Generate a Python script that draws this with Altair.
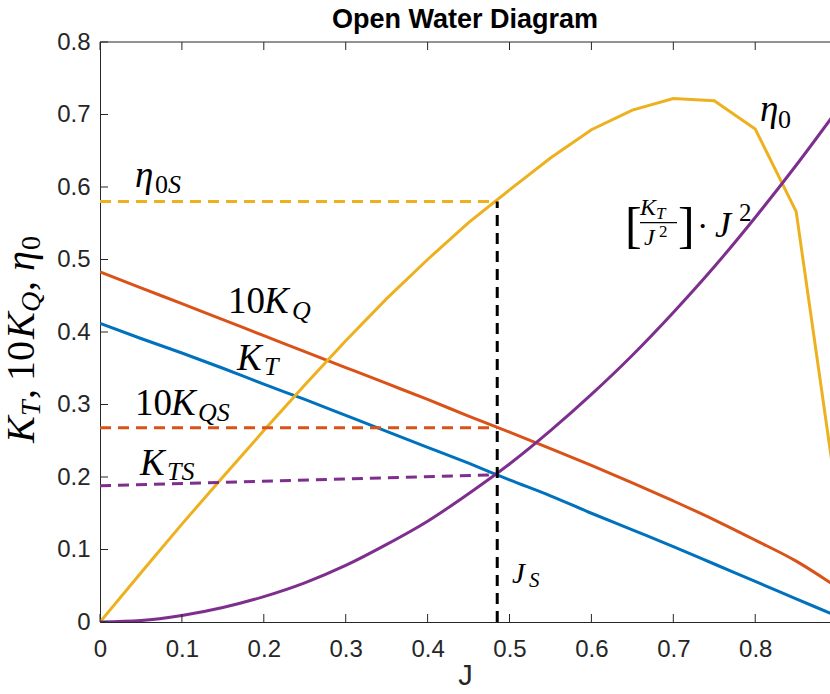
import altair as alt
import pandas as pd

# Open-water characteristics, sampled every 0.05 of advance ratio J
J = [0.00, 0.05, 0.10, 0.15, 0.20, 0.25, 0.30, 0.35, 0.40, 0.45,
     0.50, 0.55, 0.60, 0.65, 0.70, 0.75, 0.80, 0.85, 0.90]
KT = [0.412, 0.391, 0.371, 0.350, 0.328, 0.307, 0.285, 0.263, 0.241, 0.219,
      0.196, 0.174, 0.150, 0.127, 0.104, 0.080, 0.056, 0.032, 0.008]
KQ10 = [0.483, 0.461, 0.439, 0.417, 0.395, 0.373, 0.351, 0.329, 0.307, 0.284,
        0.262, 0.239, 0.216, 0.192, 0.167, 0.141, 0.113, 0.084, 0.048]
ETA0 = [0.000, 0.068, 0.135, 0.200, 0.264, 0.327, 0.388, 0.446, 0.500, 0.551,
        0.596, 0.640, 0.679, 0.706, 0.722, 0.719, 0.680, 0.566, 0.170]
# hull curve [K_T / J^2] * J^2
HULL = [0.000, 0.002, 0.009, 0.020, 0.035, 0.054, 0.078, 0.107, 0.139, 0.177,
        0.218, 0.264, 0.314, 0.368, 0.427, 0.490, 0.558, 0.630, 0.706]

# service point
JS = 0.485
ETA0S = 0.58
KQ10S = 0.268
KTS_GUIDE = [0.188, 0.203]

XTICKS = [0, 0.1, 0.2, 0.3, 0.4, 0.5, 0.6, 0.7, 0.8]
YTICKS = [0, 0.1, 0.2, 0.3, 0.4, 0.5, 0.6, 0.7, 0.8]
X_MAX = 0.8913
Y_MAX = 0.8

PLOT_W, PLOT_H = 730, 580
SANS = "Liberation Sans"
SERIF = "Liberation Serif"
INK = "#000000"
AXIS_INK = "#262626"
BLUE, RED, YELLOW, PURPLE = "#0072BD", "#D95319", "#EDB120", "#7E2F8E"
LW = 3

xs = alt.Scale(domain=[0, X_MAX], nice=False)
ys = alt.Scale(domain=[0, Y_MAX], nice=False)

X_AXIS = alt.Axis(values=XTICKS, format="~g", grid=False, ticks=False,
                  labelFlush=False, labelFont=SANS, labelFontSize=24,
                  labelColor=AXIS_INK, labelPadding=15,
                  domainColor=AXIS_INK, domainWidth=1,
                  title="J", titleFont=SANS, titleFontSize=29,
                  titleFontWeight="normal", titleColor=AXIS_INK, titlePadding=0)
Y_AXIS = alt.Axis(values=YTICKS, format="~g", grid=False, ticks=False,
                  labelFlush=False, labelFont=SANS, labelFontSize=24,
                  labelColor=AXIS_INK, labelPadding=10,
                  domainColor=AXIS_INK, domainWidth=1, title=None)


def xenc(field="J"):
    return alt.X(f"{field}:Q", scale=xs, axis=X_AXIS)


def yenc(field="v"):
    return alt.Y(f"{field}:Q", scale=ys, axis=Y_AXIS)


curves = pd.DataFrame({"J": J, "KT": KT, "KQ10": KQ10, "ETA0": ETA0, "HULL": HULL})
layers = []

# solid characteristic curves (the efficiency curve keeps its straight segments)
for col, color, interp in [("KT", BLUE, "monotone"), ("KQ10", RED, "monotone"),
                           ("ETA0", YELLOW, "linear"), ("HULL", PURPLE, "monotone")]:
    layers.append(alt.Chart(curves).mark_line(color=color, strokeWidth=LW, clip=True,
                                              interpolate=interp)
                  .encode(x=xenc(), y=yenc(col)))

# dashed read-off lines at the service point
guides = [
    (pd.DataFrame({"J": [0, JS], "v": [ETA0S, ETA0S]}), YELLOW),
    (pd.DataFrame({"J": [0, JS], "v": [KQ10S, KQ10S]}), RED),
    (pd.DataFrame({"J": [0, JS], "v": KTS_GUIDE}), PURPLE),
    (pd.DataFrame({"J": [JS, JS], "v": [0, ETA0S]}), INK),
]
for df, color in guides:
    layers.append(alt.Chart(df).mark_line(color=color, strokeWidth=LW,
                                          strokeDash=[11, 7])
                  .encode(x=xenc(), y=yenc()))

# inward tick marks and the top frame line
xt = pd.DataFrame({"J": XTICKS})
yt = pd.DataFrame({"v": YTICKS})
tick = dict(color=AXIS_INK, strokeWidth=1)
layers.append(alt.Chart(xt).mark_rule(**tick).encode(
    x=xenc(), y=alt.value(PLOT_H), y2=alt.value(PLOT_H - 8)))
layers.append(alt.Chart(xt).mark_rule(**tick).encode(
    x=xenc(), y=alt.value(0), y2=alt.value(8)))
layers.append(alt.Chart(yt).mark_rule(**tick).encode(
    y=yenc(), x=alt.value(0), x2=alt.value(8)))
layers.append(alt.Chart(pd.DataFrame({"k": [0]})).mark_rule(**tick).encode(
    x=alt.value(0), x2=alt.value(PLOT_W), y=alt.value(0)))


def tex(J0, v0, pieces):
    """Math-style label built from pieces (text, dx, dy, size, italic)."""
    base = alt.Chart(pd.DataFrame({"J": [J0], "v": [v0]}))
    out = []
    for text, dx, dy, size, italic in pieces:
        out.append(base.mark_text(text=text, font=SERIF, fontSize=size,
                                  fontStyle="italic" if italic else "normal",
                                  align="left", baseline="alphabetic",
                                  dx=dx, dy=dy, color=INK)
                   .encode(x=xenc(), y=yenc()))
    return out


layers += tex(0.1563, 0.4262, [("10", 0, 0, 37, False), ("K", 36, 0, 37, True),
                               ("Q", 64, 6, 26, True)])
layers += tex(0.1673, 0.3476, [("K", 0, 0, 37, True), ("T", 27, 5, 26, True)])
layers += tex(0.0427, 0.2855, [("10", 0, 0, 37, False), ("K", 36, 0, 37, True),
                               ("QS", 63, 6, 26, True)])
layers += tex(0.0488, 0.2028, [("K", 0, 0, 37, True), ("TS", 27, 5, 26, True)])
layers += tex(0.0427, 0.6000, [("η", 0, 0, 37, True), ("0", 20, 6, 26, False),
                               ("S", 33, 6, 26, True)])
layers += tex(0.8059, 0.6910, [("η", 0, 0, 37, True), ("0", 18, 7, 26, False)])
layers += tex(0.6410, 0.5269, [("[", 0, 2, 50, False), ("K", 15, -25, 24, True),
                               ("T", 31, -21, 17, True), ("J", 19, 5, 24, True),
                               ("2", 34, -3, 17, False), ("]", 53, 2, 50, False),
                               ("·", 72, -3, 34, False), ("J", 90, -3, 36, True),
                               ("2", 114, -19, 25, False)])
layers += tex(0.503, 0.0538, [("J", 0, 0, 29, True), ("S", 17, 4, 21, True)])

# fraction bar of the hull-curve label
layers.append(alt.Chart(pd.DataFrame({"k": [0]})).mark_rule(color=INK, strokeWidth=1.2)
              .encode(x=alt.datum(0.6593), x2=alt.datum(0.7045), y=alt.datum(0.5510)))

# rotated y-axis title
ytitle = [("K", 0, 0, 40, True), ("T", 27, 6, 28, True), (",", 44, 0, 40, False),
          ("10", 62, 0, 40, False), ("K", 104, 0, 40, True), ("Q", 131, 6, 28, True),
          (",", 152, 0, 40, False), ("η", 172, 0, 40, True), ("0", 193, 6, 28, False)]
for text, dx, dy, size, italic in ytitle:
    layers.append(alt.Chart(pd.DataFrame({"k": [0]})).mark_text(
        text=text, font=SERIF, fontSize=size,
        fontStyle="italic" if italic else "normal", angle=270,
        align="left", baseline="alphabetic", dx=dx, dy=dy, color=INK)
        .encode(x=alt.value(-66), y=alt.value(401)))

# chart title centred over the axes
layers.append(alt.Chart(pd.DataFrame({"k": [0]})).mark_text(
    text="Open Water Diagram", font=SANS, fontSize=27, fontWeight="bold",
    align="center", baseline="alphabetic", color=INK)
    .encode(x=alt.value(PLOT_W / 2), y=alt.value(-14)))

chart = alt.layer(*layers).properties(
    width=PLOT_W, height=PLOT_H,
    padding={"left": 100, "top": 42, "right": 0, "bottom": 72},
    autosize="none",
    background="white",
).configure_view(stroke=None)

chart.save("out.html", embed_options={"renderer": "svg", "actions": False})
